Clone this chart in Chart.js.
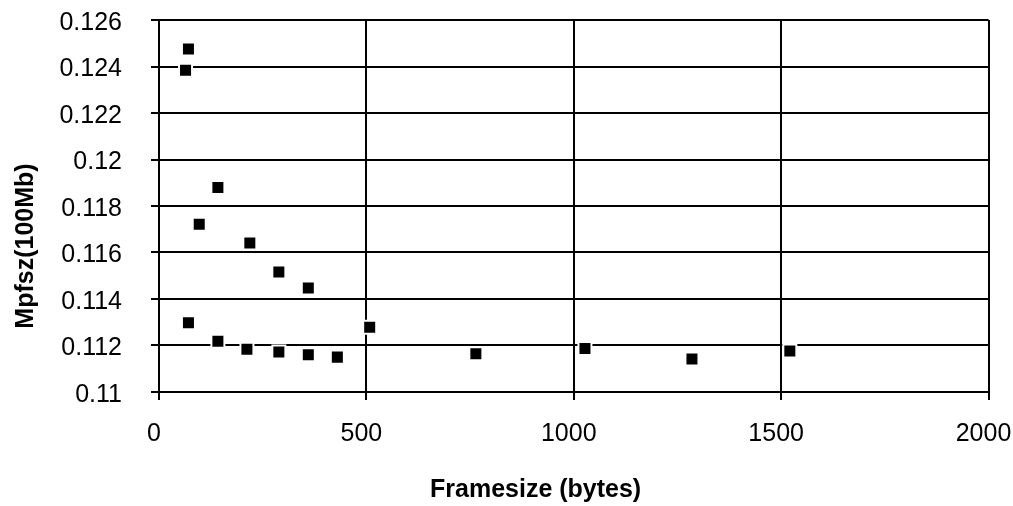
<!DOCTYPE html>
<html lang="en">
<head>
  <meta charset="UTF-8">
  <title>Mpfsz vs Framesize</title>
  <script src="https://cdn.jsdelivr.net/npm/chart.js"></script>
  <style>
    * { margin: 0; padding: 0; box-sizing: border-box; }
    body { background: #fff; width: 1013px; height: 506px; overflow: hidden; }
    canvas { display: block; }
  </style>
</head>
<body>
  <canvas id="frameChart" width="1013" height="506"></canvas>

<script>
  // values
  const frameSizes = [64, 71, 71, 97, 142, 142, 212, 219, 289, 289, 360, 360, 430, 508, 764, 1027, 1285, 1521];
  const mpfsz = [0.12384, 0.12475, 0.11298, 0.11721, 0.11880, 0.11218, 0.11184, 0.11641, 0.11516, 0.11172,
                 0.11447, 0.11160, 0.11150, 0.11278, 0.11165, 0.11187, 0.11142, 0.11176];
  const xTicks = [0, 500, 1000, 1500, 2000];
  const yTicks = [0.11, 0.112, 0.114, 0.116, 0.118, 0.12, 0.122, 0.124, 0.126];

  const xTitle = 'Framesize (bytes)';
  const yTitle = 'Mpfsz(100Mb)';
  const FONT = "'Liberation Sans', Arial, sans-serif";

  const points = frameSizes.map((x, i) => ({ x: x, y: mpfsz[i] }));

  // axis titles are placed like the original (not centred on the plot)
  const titlePlugin = {
    id: 'axisTitles',
    afterDraw(chart) {
      const ctx = chart.ctx;
      ctx.save();
      ctx.fillStyle = '#000';
      ctx.font = 'bold 25px ' + FONT;
      ctx.textBaseline = 'alphabetic';
      ctx.textAlign = 'left';
      ctx.fillText(xTitle, 430, 497);
      ctx.translate(33, 246);
      ctx.rotate(-Math.PI / 2);
      ctx.textAlign = 'center';
      ctx.fillText(yTitle, 0, 0);
      ctx.restore();
    }
  };

  const ctx = document.getElementById('frameChart').getContext('2d');
  new Chart(ctx, {
    type: 'scatter',
    data: {
      datasets: [{
        label: 'Mpfsz',
        data: points,
        backgroundColor: '#000',
        borderColor: '#fff',
        borderWidth: 2,
        pointStyle: 'rect',
        pointRadius: 9.2,
        pointHoverRadius: 9.2
      }]
    },
    options: {
      responsive: false,
      animation: false,
      devicePixelRatio: 1,
      layout: { padding: { top: 20, right: 24.5, left: 0, bottom: 0 } },
      plugins: {
        legend: { display: false },
        tooltip: { enabled: false }
      },
      scales: {
        x: {
          type: 'linear',
          min: 0,
          max: 2000,
          afterBuildTicks: s => { s.ticks = xTicks.map(v => ({ value: v })); },
          afterFit: s => { s.height = 114; s.paddingLeft = 0; s.paddingRight = 0; },
          grid: { color: '#000', lineWidth: 2, tickLength: 8, drawTicks: true },
          border: { color: '#000', width: 2 },
          ticks: {
            color: '#000',
            font: { family: FONT, size: 25 },
            padding: 19,
            labelOffset: -5,
            maxRotation: 0,
            autoSkip: false,
            callback: v => String(v)
          }
        },
        y: {
          type: 'linear',
          min: 0.11,
          max: 0.126,
          afterBuildTicks: s => { s.ticks = yTicks.map(v => ({ value: v })); },
          afterFit: s => { s.width = 159; s.paddingTop = 0; s.paddingBottom = 0; },
          grid: { color: '#000', lineWidth: 2, tickLength: 8, drawTicks: true },
          border: { color: '#000', width: 2 },
          ticks: {
            color: '#000',
            font: { family: FONT, size: 25 },
            padding: 29,
            labelOffset: 3,
            autoSkip: false,
            callback: v => String(parseFloat(Number(v).toFixed(3)))
          }
        }
      }
    },
    plugins: [titlePlugin]
  });
</script>
</body>
</html>
